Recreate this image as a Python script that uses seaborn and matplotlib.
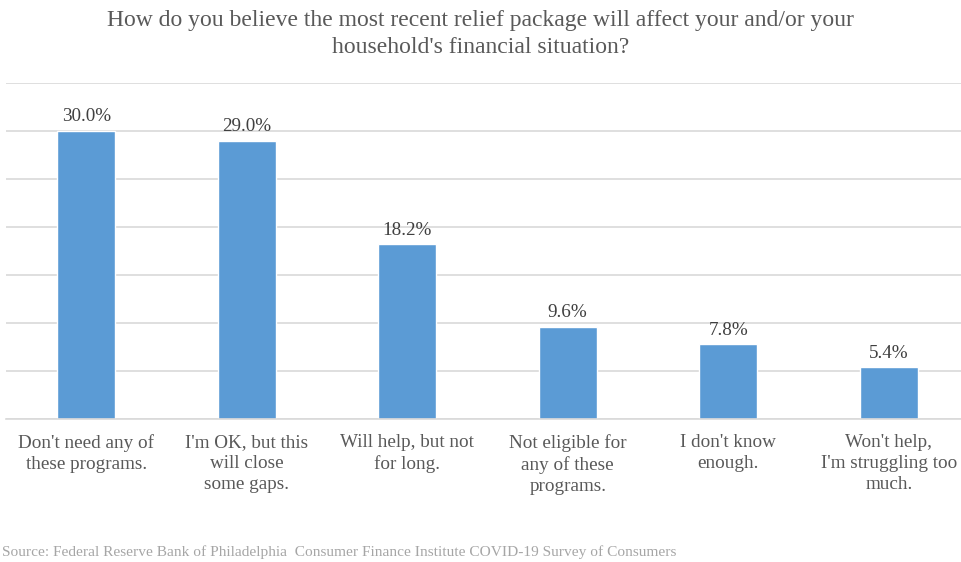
import matplotlib
matplotlib.use("Agg")
import matplotlib.pyplot as plt
import seaborn as sns
import pandas as pd

categories = [
    "Don't need any of\nthese programs.",
    "I'm OK, but this\nwill close\nsome gaps.",
    "Will help, but not\nfor long.",
    "Not eligible for\nany of these\nprograms.",
    "I don't know\nenough.",
    "Won't help,\nI'm struggling too\nmuch.",
]
values = [30.0, 29.0, 18.2, 9.6, 7.8, 5.4]
value_labels = ["30.0%", "29.0%", "18.2%", "9.6%", "7.8%", "5.4%"]
title = "How do you believe the most recent relief package will affect your and/or your\nhousehold's financial situation?"
source = "Source: Federal Reserve Bank of Philadelphia  Consumer Finance Institute COVID-19 Survey of Consumers"

sns.set_theme(style="white")
plt.rcParams['font.family'] = ['Liberation Serif', 'DejaVu Serif']

df = pd.DataFrame({"cat": categories, "val": values})

fig = plt.figure(figsize=(9.61, 5.62), dpi=100)
ax = fig.add_axes([6 / 961, (562 - 419) / 562, 963 / 961, (419 - 83) / 562])
sns.barplot(data=df, x="cat", y="val", color="#5B9BD5", width=0.36, ax=ax, saturation=1)

ax.set_ylim(0, 35)
ax.set_yticks(range(0, 36, 5))
ax.yaxis.grid(True, color="#D9D9D9", linewidth=1.2)
ax.set_axisbelow(True)
ax.tick_params(axis="y", left=False, labelleft=False)
ax.tick_params(axis="x", bottom=False, pad=5, labelsize=13.8, colors="#595959")
for s in ["top", "right", "left"]:
    ax.spines[s].set_visible(False)
ax.spines["bottom"].set_color("#D9D9D9")
ax.spines["bottom"].set_linewidth(1.2)
ax.set_xlabel("")
ax.set_ylabel("")
for lbl in ax.get_xticklabels():
    lbl.set_linespacing(1.3)

for i, (v, t) in enumerate(zip(values, value_labels)):
    ax.annotate(t, (i, v), xytext=(0, 4), textcoords="offset points",
                ha="center", va="bottom", fontsize=13.8, color="#404040")

fig.text(0.5, 1 - 34 / 562, title, ha="center", va="center", fontsize=17,
         color="#595959", linespacing=1.38)
fig.text(2 / 961, 1 - 552 / 562, source, ha="left", va="center", fontsize=11.1,
         color="#A6A6A6")

fig.savefig("out.png", dpi=100)
